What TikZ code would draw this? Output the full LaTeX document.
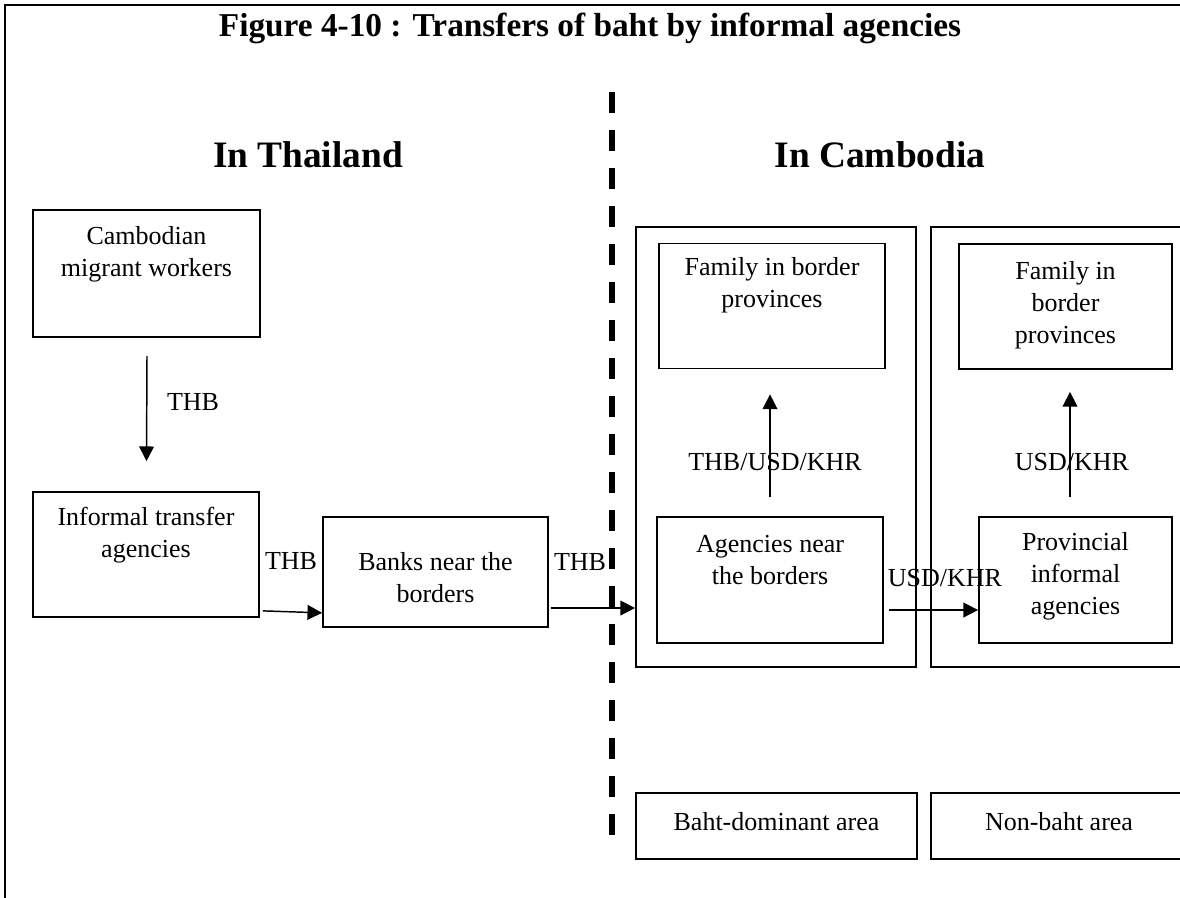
\documentclass[tikz,border=0pt]{standalone}
\usepackage{fontspec}
\setmainfont{Liberation Serif}
\usetikzlibrary{arrows.meta,calc}
\tikzset{
  box/.style={draw, line width=1.3pt, inner sep=0pt},
  txt/.style={inner sep=0pt, align=center, font=\fontsize{19.5}{24}\selectfont},
  lbl/.style={inner sep=0pt, font=\fontsize{19.5}{24}\selectfont},
  arr/.style={line width=1.1pt, -{Triangle[length=11pt,width=11pt]}},
  frame/.style={line width=2.2pt},
  border/.style={line width=3.8pt, dash pattern=on 15.75pt off 12.75pt},
  head/.style={inner sep=0pt, font=\bfseries\fontsize{28}{32}\selectfont},
  titl/.style={inner sep=0pt, font=\bfseries\fontsize{25}{29}\selectfont}
}
\begin{document}
\begin{tikzpicture}[x=0.75pt,y=-0.75pt]
\useasboundingbox (0,0) rectangle (1180,897);
\clip (0,0) rectangle (1180,897);
% frame
\draw[frame] (5,900) -- (5,5) -- (1185,5);
\node[titl] (title) at (590,28) {Figure 4-10 : Transfers of baht by informal agencies};
% border line
\coordinate (bt) at (612,92);
\coordinate (bb) at (612,838);
\draw[border] (bt) -- (bb);
\node[head] (th) at (308,155) {In Thailand};
\node[head] (kh) at (880,155) {In Cambodia};
% Thailand boxes
\node[box, minimum width=227*0.75pt, minimum height=127*0.75pt] (cmw) at (146.5,273.5) {};
\node[txt] (cmwt) at (146.5,254) {Cambodian\\migrant workers};
\node[box, minimum width=226*0.75pt, minimum height=125*0.75pt] (ita) at (146,554.5) {};
\node[txt] (itat) at (146,535) {Informal transfer\\agencies};
\node[box, minimum width=225*0.75pt, minimum height=110*0.75pt] (banks) at (435.5,572) {};
\node[txt] (bankst) at (435.5,578) {Banks near the\\borders};
% Cambodia outer boxes
\node[box, minimum width=280*0.75pt, minimum height=440*0.75pt] (c1) at (776,447) {};
\node[box, minimum width=270*0.75pt, minimum height=440*0.75pt] (c2) at (1066,447) {};
% Cambodia inner boxes
\node[box, minimum width=226*0.75pt, minimum height=125*0.75pt] (fam1) at (772,306) {};
\node[txt] (fam1t) at (772,285) {Family in border\\provinces};
\node[box, minimum width=226*0.75pt, minimum height=126*0.75pt] (agn) at (770,580) {};
\node[txt] (agnt) at (770,560) {Agencies near\\the borders};
\node[box, minimum width=213*0.75pt, minimum height=125*0.75pt] (fam2) at (1065.5,306.5) {};
\node[txt] (fam2t) at (1065.5,305) {Family in\\border\\provinces};
\node[box, minimum width=193*0.75pt, minimum height=126*0.75pt] (prov) at (1075.5,580) {};
\node[txt] (provt) at (1075.5,576) {Provincial\\informal\\agencies};
% legend boxes
\node[box, minimum width=281*0.75pt, minimum height=66*0.75pt] (baht) at (776.5,826) {};
\node[txt] (bahtt) at (776.5,822) {Baht-dominant area};
\node[box, minimum width=270*0.75pt, minimum height=66*0.75pt] (nonb) at (1066,826) {};
\node[txt] (nonbt) at (1059,822) {Non-baht area};
% arrows
\draw[arr] ($(cmw.south)+(0.5,18)$) -- ($(ita.north)+(0.5,-30)$);
\node[lbl] at (193,402) {THB};
\draw[arr] ($(ita.south east)+(3,-7)$) -- ($(banks.south west)+(0,-15)$);
\node[lbl] at (291,561) {THB};
\draw[arr] ($(banks.east)+(2,36)$) -- ($(c1.west)+(0,161)$);
\node[lbl] at (580,562) {THB};
\draw[arr] ($(agn.north)+(0,-19)$) -- ($(fam1.south)+(-2,25)$);
\node[lbl] at (775,462) {THB/USD/KHR};
\draw[arr] ($(agn.east)+(5,30)$) -- ($(prov.west)+(0,30)$);
\node[lbl] at (945,578) {USD/KHR};
\draw[arr] ($(prov.north)+(-5.5,-19)$) -- ($(fam2.south)+(4.5,22)$);
\node[lbl] at (1072,462) {USD/KHR};
\end{tikzpicture}
\end{document}
